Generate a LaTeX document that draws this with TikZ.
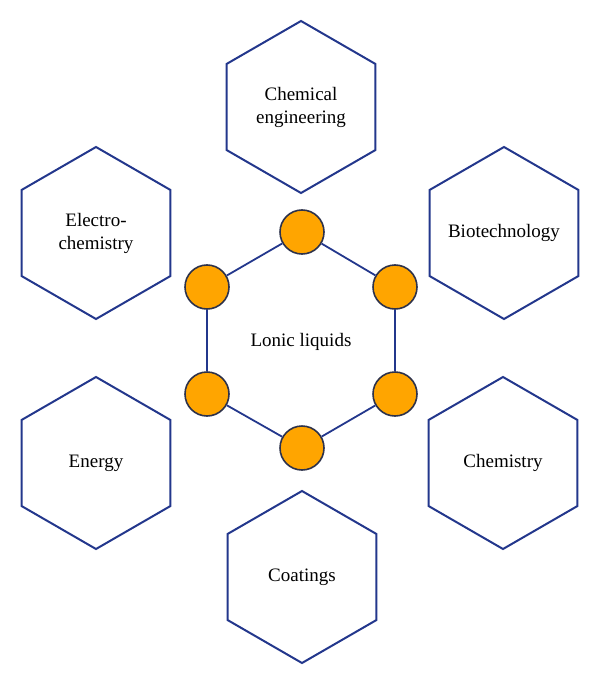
\documentclass[tikz,border=0pt]{standalone}
\usepackage{fontspec}
\setmainfont{Liberation Serif}
\usetikzlibrary{shapes.geometric}
\definecolor{hexblue}{RGB}{35,55,140}
\definecolor{ilorange}{RGB}{255,165,0}
\definecolor{ringgray}{RGB}{45,50,75}

\begin{document}
\begin{tikzpicture}[x=0.5pt, y=-0.5pt,
    field/.style={regular polygon, regular polygon sides=6, shape border rotate=30,
        draw=hexblue, line width=1pt, minimum size=86pt, inner sep=0pt,
        align=center, font=\fontsize{9.5}{11.5}\selectfont},
    atom/.style={circle, draw=ringgray, fill=ilorange, line width=0.8pt,
        minimum size=22pt, inner sep=0pt},
    bond/.style={draw=hexblue, line width=0.9pt}]
    \useasboundingbox (0, 0) rectangle (600, 684);

    % application fields
    \node[field] (cheng) at (301, 107) {Chemical\\engineering};
    \node[field] (elchem) at (96, 233) {Electro-\\chemistry};
    \node[field] (biotech) at (504, 233) {\makebox[0pt]{Biotechnology}};
    \node[field] (energy) at (96, 463) {Energy};
    \node[field] (chem) at (503, 463) {Chemistry};
    \node[field] (coat) at (302, 577) {Coatings};

    % central ring
    \node[font=\fontsize{9.5}{11.5}\selectfont] (il) at (301, 342) {Lonic liquids};
    \node[atom] (a1) at (302, 232) {};
    \node[atom] (a2) at (395, 287) {};
    \node[atom] (a3) at (395, 394) {};
    \node[atom] (a4) at (302, 448) {};
    \node[atom] (a5) at (207, 394) {};
    \node[atom] (a6) at (207, 287) {};
    \draw[bond] (a1) -- (a2) (a2) -- (a3) (a3) -- (a4)
        (a4) -- (a5) (a5) -- (a6) (a6) -- (a1);
\end{tikzpicture}
\end{document}
